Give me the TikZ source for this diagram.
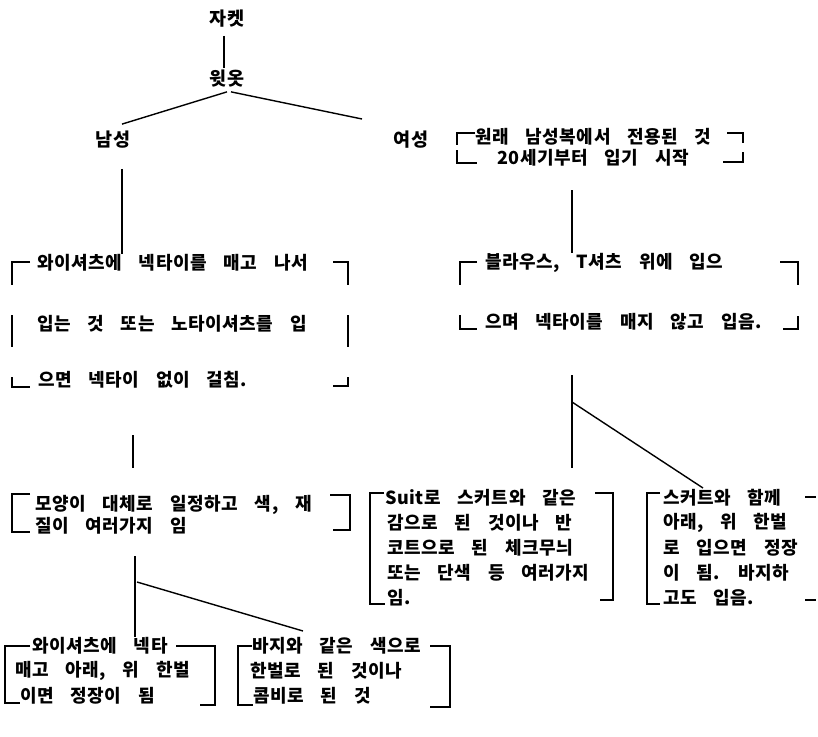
\documentclass[tikz,border=0pt]{standalone}
\usepackage{fontspec}
\newfontfamily\hangultext[LetterSpace=3,WordSpace=3.6]{Noto Sans CJK KR}
\newfontfamily\hangullabel[LetterSpace=6]{Noto Sans CJK KR}
\usetikzlibrary{calc}
\begin{document}
\begin{tikzpicture}[x=1pt,y=-1pt,
  txt/.style={font={\hangultext\bfseries\fontsize{18}{20}\selectfont},inner sep=0pt,anchor=west},
  lbl/.style={font={\hangullabel\bfseries\fontsize{18.5}{20}\selectfont},inner sep=0pt},
  conn/.style={line width=1.4pt},
  brk/.style={line width=1.3pt}]
\useasboundingbox[fill=white] (0,0) rectangle (818,736);

% top labels
\node[lbl] (jacket) at (227,19) {자켓};
\node[lbl] (upper) at (227,79) {윗옷};
\node[lbl] (male) at (113,140) {남성};
\node[lbl] (female) at (411,140) {여성};
\coordinate (fend) at (362,119);

\draw[conn] ($(jacket.south)+(-3,8)$) -- ($(upper.north)+(-3,-2)$);
\draw[conn] ($(upper.south)+(0,4)$) -- ($(male.north)+(9,-7)$);
\draw[conn] ($(upper.south)+(4,4)$) -- (fend);

% women box 1
\node[txt] (wa1) at (475,137) {원래 남성복에서 전용된 것};
\node[txt] (wa2) at (497,158) {20세기부터 입기 시작};
\draw[brk] (475,133) -| (457,145);
\draw[brk] (457,150) |- (477,163);
\draw[brk] (727,133) -| (743,143);
\draw[brk] (743,152) |- (723,162);

% men box
\node[txt] (ma1) at (37,263) {와이셔츠에 넥타이를 매고 나서};
\node[txt] (ma2) at (37,324) {입는 것 또는 노타이셔츠를 입};
\node[txt] (ma3) at (38,380) {으면 넥타이 없이 걸침.};
\draw[brk] (30,262) -| (12,285);
\draw[brk] (12,315) -- (12,347);
\draw[brk] (12,377) |- (30,387);
\draw[brk] (333,262) -| (348,285);
\draw[brk] (348,315) -- (348,347);
\draw[brk] (333,386) -| (348,377);

\coordinate (mtop) at ($(male.south)+(9,20)$);
\draw[conn] (mtop) -- (mtop |- ma1.north);

% women box 2
\node[txt] (wb1) at (485,263) {블라우스, T셔츠 위에 입으};
\node[txt] (wb2) at (485,322) {으며 넥타이를 매지 않고 입음.};
\draw[brk] (477,262) -| (460,285);
\draw[brk] (460,315) |- (477,329);
\draw[brk] (780,262) -| (798,285);
\draw[brk] (783,329) -| (798,316);

\coordinate (wtop) at (572,190);
\draw[conn] (wtop) -- (wtop |- wb1.north);

% men lower branch
\coordinate (m2a) at (133,435);
\coordinate (m2b) at (133,468);
\draw[conn] (m2a) -- (m2b);

% shape box
\node[txt] (mb1) at (35,505) {모양이 대체로 일정하고 색, 재};
\node[txt] (mb2) at (35,526) {질이 여러가지 임};
\draw[brk] (30,494) -| (12,532) -- (30,532);
\draw[brk] (330,495) -| (350,530) -- (333,530);

% women lower branch
\coordinate (w2a) at (572,375);
\coordinate (w2b) at (572,468);
\coordinate (w2j) at (572,402);
\coordinate (w2d) at (703,488);
\draw[conn] (w2a) -- (w2b);
\draw[conn] (w2j) -- (w2d);

% suit box
\node[txt] (su1) at (385,498) {Suit로 스커트와 같은};
\node[txt] (su2) at (387,523) {감으로 된 것이나 반};
\node[txt] (su3) at (387,548) {코트으로 된 체크무늬};
\node[txt] (su4) at (387,573) {또는 단색 등 여러가지};
\node[txt] (su5) at (387,598) {임.};
\draw[brk] (384,493) -| (370,604) -- (385,604);
\draw[brk] (595,493) -| (613,600) -- (600,600);

% skirt box
\node[txt] (sk1) at (663,498) {스커트와 함께};
\node[txt] (sk2) at (663,523) {아래, 위 한벌};
\node[txt] (sk3) at (663,548) {로 입으면 정장};
\node[txt] (sk4) at (663,573) {이 됨. 바지하};
\node[txt] (sk5) at (663,598) {고도 입음.};
\draw[brk] (660,493) -| (647,604) -- (660,604);
\draw[brk] (805,497) -- (816,497);
\draw[brk] (805,600) -- (816,600);

% men lowest branch
\coordinate (m3a) at (135,556);
\coordinate (m3j) at (137,582);
\coordinate (m3d) at (303,631);

% bottom-left box
\node[txt] (mc1) at (32,646) {와이셔츠에 넥타};
\node[txt] (mc2) at (15,671) {매고 아래, 위 한벌};
\node[txt] (mc3) at (20,696) {이면 정장이 됨};
\draw[brk] (30,646) -| (5,703) -- (20,703);
\draw[brk] (176,646) -| (215,705) -- (200,705);

\draw[conn] (m3a) -- (m3a |- mc1.north);
\draw[conn] (m3j) -- (m3d);

% bottom-right box
\node[txt] (mr1) at (252,646) {바지와 같은 색으로};
\node[txt] (mr2) at (250,671) {한벌로 된 것이나};
\node[txt] (mr3) at (253,696) {콤비로 된 것};
\draw[brk] (252,646) -| (238,705) -- (253,705);
\draw[brk] (430,646) -| (450,707) -- (430,707);
\end{tikzpicture}
\end{document}
